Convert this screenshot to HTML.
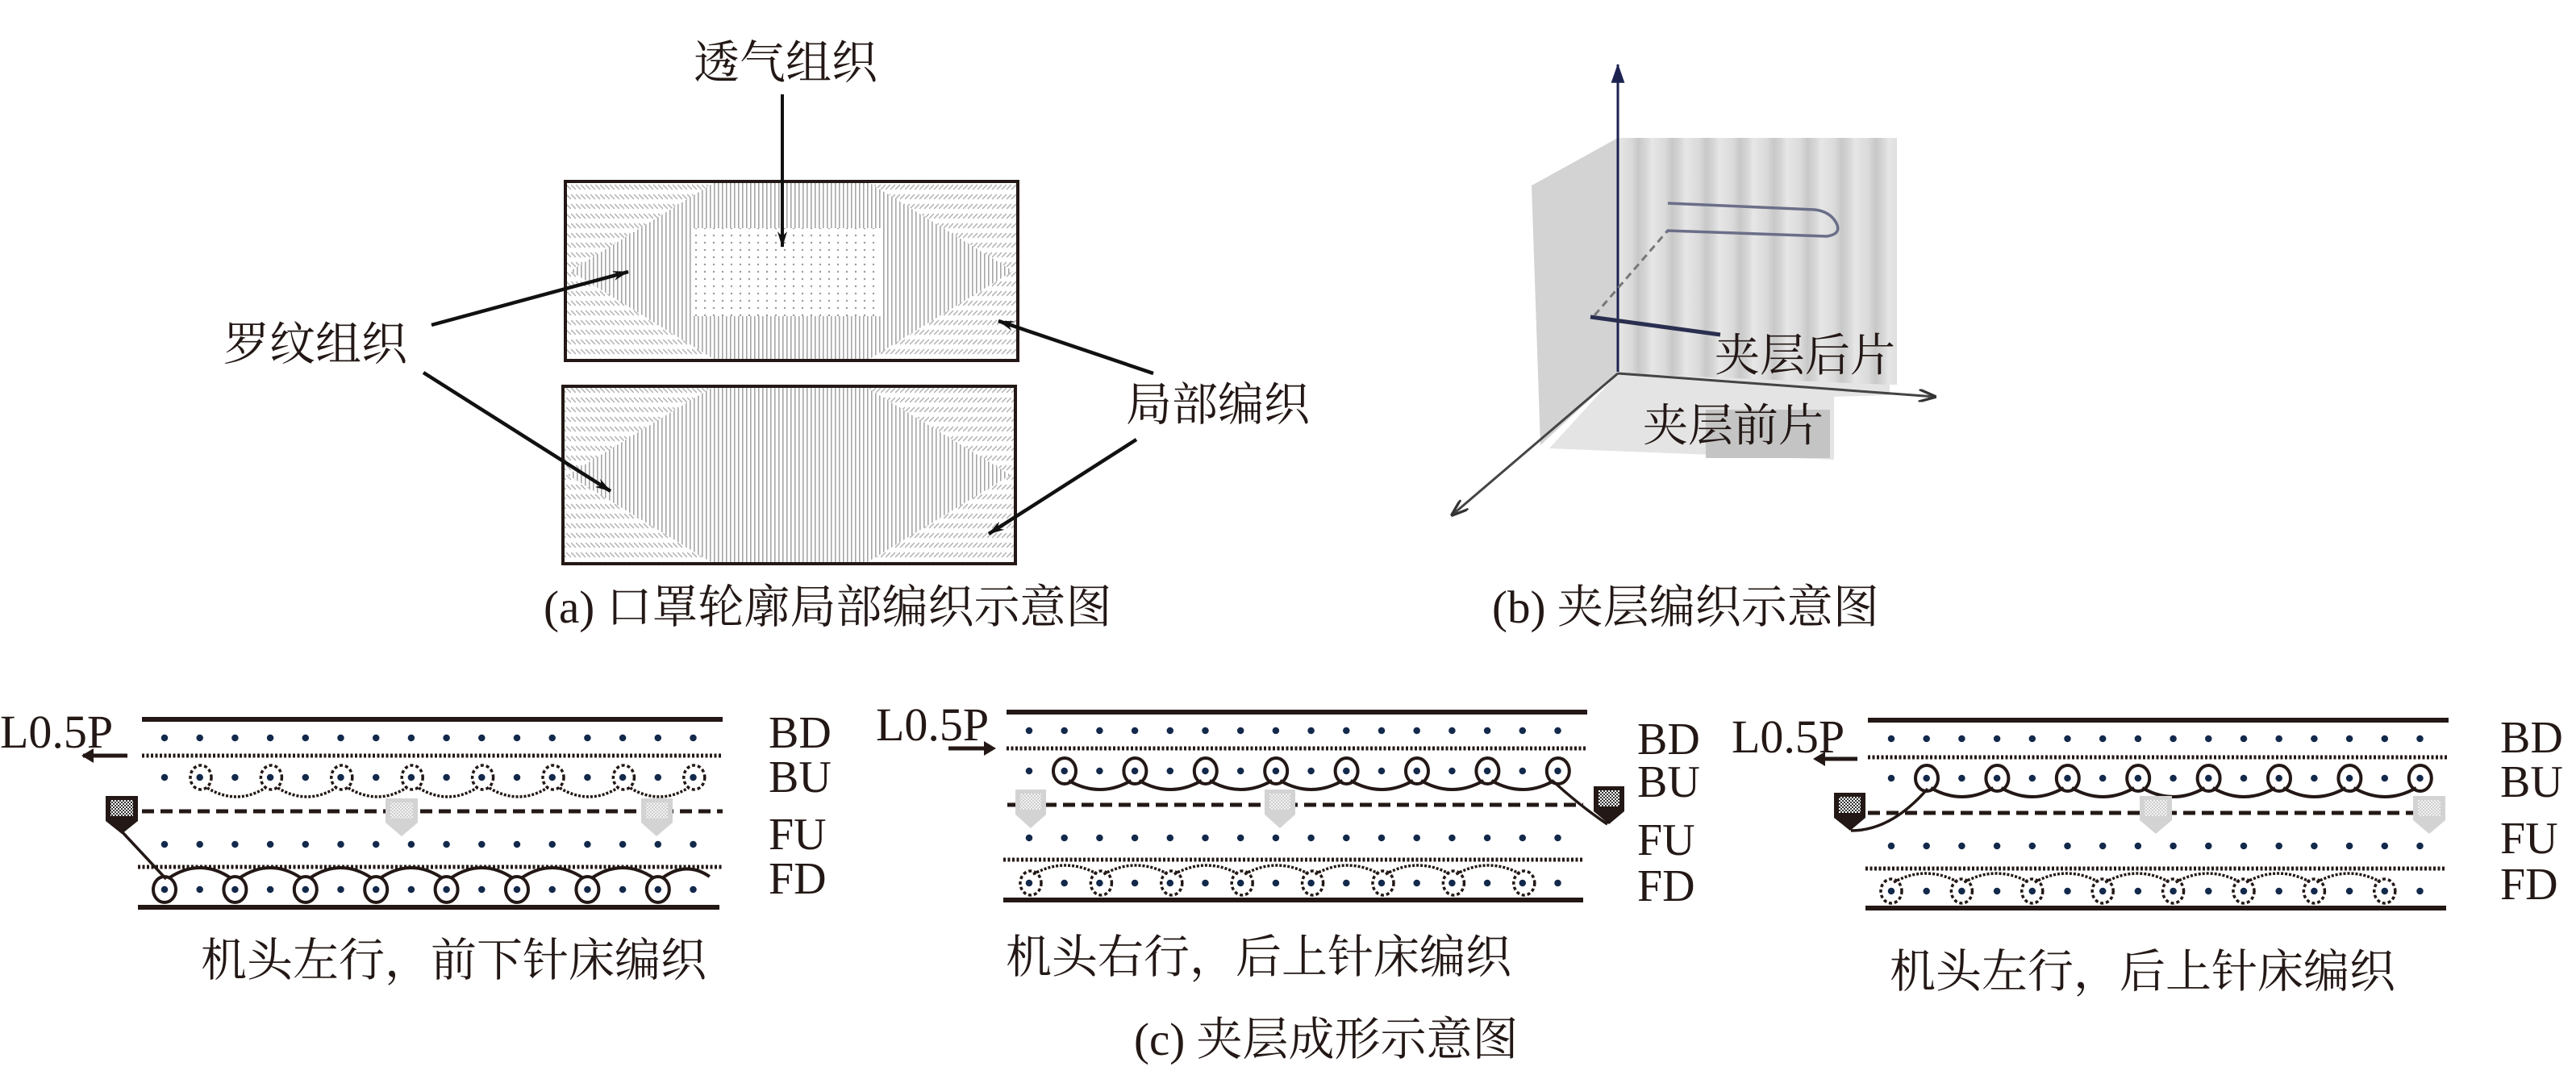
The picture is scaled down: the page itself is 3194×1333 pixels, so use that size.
<!DOCTYPE html>
<html><head><meta charset="utf-8"><style>
html,body{margin:0;padding:0;background:#fff;}
svg{display:block;}
text{font-family:"Liberation Serif","Noto Serif CJK SC",serif;fill:#231815;}
</style></head><body>
<svg width="3194" height="1333" viewBox="0 0 3194 1333" xmlns="http://www.w3.org/2000/svg">
<defs>
 <pattern id="vs" width="5" height="10" patternUnits="userSpaceOnUse"><rect width="5" height="10" fill="#fff"/><rect x="0" width="1.6" height="10" fill="#a6a6a6"/></pattern>
 <pattern id="hl" width="6" height="12" patternUnits="userSpaceOnUse"><rect width="6" height="12" fill="#fff"/><path d="M0,1 L6,7" stroke="#b0b0b0" stroke-width="1.4"/></pattern>
 <pattern id="hr" width="6" height="12" patternUnits="userSpaceOnUse"><rect width="6" height="12" fill="#fff"/><path d="M6,1 L0,7" stroke="#b0b0b0" stroke-width="1.4"/></pattern>
 <pattern id="dt" width="11" height="9" patternUnits="userSpaceOnUse"><rect width="11" height="9" fill="#fff"/><circle cx="5" cy="4" r="1.2" fill="#999"/></pattern>
 <linearGradient id="bsg" x1="0" x2="1" y1="0" y2="0">
  <stop offset="0" stop-color="#e6e6e6"/><stop offset="0.4" stop-color="#dadada"/><stop offset="0.6" stop-color="#c8c8c8"/><stop offset="0.8" stop-color="#d4d4d4"/><stop offset="1" stop-color="#e6e6e6"/>
 </linearGradient>
 <pattern id="bs" x="2006" width="42" height="10" patternUnits="userSpaceOnUse"><rect width="42" height="10" fill="url(#bsg)"/></pattern>
 <pattern id="ck" width="4" height="4" patternUnits="userSpaceOnUse"><rect width="4" height="4" fill="#fff"/><rect width="2" height="2" fill="#333"/><rect x="2" y="2" width="2" height="2" fill="#333"/></pattern>
 <pattern id="ckg" width="4" height="4" patternUnits="userSpaceOnUse"><rect width="4" height="4" fill="#f2f2f2"/><rect width="2" height="2" fill="#cfcfcf"/><rect x="2" y="2" width="2" height="2" fill="#cfcfcf"/></pattern>
 <marker id="ah" viewBox="0 0 20 12" refX="19" refY="6" markerWidth="20" markerHeight="12" markerUnits="userSpaceOnUse" orient="auto"><path d="M0,0 L20,6 L0,12 L6,6 Z" fill="#111"/></marker>
 <marker id="ah2" viewBox="0 0 20 14" refX="19" refY="7" markerWidth="22" markerHeight="16" markerUnits="userSpaceOnUse" orient="auto"><path d="M0,0 L20,7 L0,14" fill="none" stroke="#333" stroke-width="3"/></marker>
 <marker id="ah3" viewBox="0 0 20 14" refX="19" refY="7" markerWidth="24" markerHeight="18" markerUnits="userSpaceOnUse" orient="auto"><path d="M0,0 L20,7 L0,14 Z" fill="#1c2250"/></marker>
</defs>

<!-- ===== Panel (a) ===== -->
<g>
 <rect x="701" y="225" width="561" height="222" fill="url(#vs)"/>
 <polygon points="701,225 888,225 707,336 888,447 701,447" fill="url(#hl)"/>
 <polygon points="1262,225 1075,225 1256,336 1075,447 1262,447" fill="url(#hr)"/>
 <rect x="858" y="283" width="234" height="109" fill="url(#dt)"/>
 <rect x="701" y="225" width="561" height="222" fill="none" stroke="#231815" stroke-width="4"/>

 <rect x="698" y="479" width="561" height="220" fill="url(#vs)"/>
 <polygon points="698,479 885,479 704,589 885,699 698,699" fill="url(#hl)"/>
 <polygon points="1259,479 1072,479 1253,589 1072,699 1259,699" fill="url(#hr)"/>
 <rect x="698" y="479" width="561" height="220" fill="none" stroke="#231815" stroke-width="4"/>

 <line x1="970" y1="117" x2="970" y2="306" stroke="#111" stroke-width="4" marker-end="url(#ah)"/>
 <line x1="535" y1="403" x2="779" y2="337" stroke="#111" stroke-width="4.5" marker-end="url(#ah)"/>
 <line x1="525" y1="462" x2="757" y2="609" stroke="#111" stroke-width="4.5" marker-end="url(#ah)"/>
 <line x1="1430" y1="463" x2="1238" y2="398" stroke="#111" stroke-width="4.5" marker-end="url(#ah)"/>
 <line x1="1409" y1="545" x2="1226" y2="662" stroke="#111" stroke-width="4.5" marker-end="url(#ah)"/>

 <text x="860" y="97" font-size="57">透气组织</text>
 <text x="277" y="446" font-size="57">罗纹组织</text>
 <text x="1396" y="521" font-size="57">局部编织</text>
 <text x="674" y="772" font-size="57">(a) 口罩轮廓局部编织示意图</text>
</g>

<!-- ===== Panel (b) ===== -->
<g>
 <polygon points="1899,230 2006,171 2006,463 1910,552" fill="#d3d3d3"/>
 <rect x="2006" y="171" width="346" height="306" fill="url(#bs)"/>
 <polygon points="2006,463 2343,477 2343,490 2274,492 2274,570 1921,556" fill="#e4e4e4"/>
 <rect x="2115" y="508" width="154" height="60" fill="#c4c4c4"/>
 <line x1="2006" y1="461" x2="2006" y2="80" stroke="#1c2250" stroke-width="3" marker-end="url(#ah3)"/>
 <line x1="2006" y1="463" x2="2400" y2="492" stroke="#444" stroke-width="3" marker-end="url(#ah2)"/>
 <line x1="2006" y1="463" x2="1800" y2="639" stroke="#444" stroke-width="3" marker-end="url(#ah2)"/>
 <path d="M1972,393 L2133,415" stroke="#2a2f50" stroke-width="5" fill="none"/>
 <path d="M1977,391 L2066,288" stroke="#777" stroke-width="3" stroke-dasharray="9 6" fill="none"/>
 <path d="M2066,288 L2068,286 L2265,293 Q2285,290 2276,275 Q2268,262 2250,260 L2068,252" stroke="#6a6e88" stroke-width="3.5" fill="none"/>
 <text x="2126" y="460" font-size="56">夹层后片</text>
 <text x="2037" y="547" font-size="56">夹层前片</text>
 <text x="1850" y="772" font-size="57">(b) 夹层编织示意图</text>
</g>

<!-- ===== Panel (c)-1 ===== -->
<g fill="none" stroke="#231815">
 <line x1="176" y1="892" x2="896" y2="892" stroke-width="6"/>
 <line x1="176" y1="937" x2="896" y2="937" stroke-width="5" stroke-dasharray="3 2.5"/>
 <line x1="176" y1="1006" x2="896" y2="1006" stroke-width="5" stroke-dasharray="15 8"/>
 <line x1="171" y1="1075" x2="896" y2="1075" stroke-width="5" stroke-dasharray="3 2.5"/>
 <line x1="171" y1="1125" x2="892" y2="1125" stroke-width="6"/>
 <path d="M257,977 q36,22 72,0 m15.4,0 q36,22 72,0 m15.4,0 q36,22 72,0 m15.4,0 q36,22 72,0 m15.4,0 q36,22 72,0 m15.4,0 q36,22 72,0 m15.4,0 q36,22 72,0" stroke-width="3.5" stroke-dasharray="3 2"/>
 <path d="M209,1089 q38.7,-26 77.4,0 m10,0 q38.7,-26 77.4,0 m10,0 q38.7,-26 77.4,0 m10,0 q38.7,-26 77.4,0 m10,0 q38.7,-26 77.4,0 m10,0 q38.7,-26 77.4,0 m10,0 q38.7,-26 77.4,0 m10,0 q30,-22 59,-2" stroke-width="4"/>
 <line x1="150" y1="1030" x2="206" y2="1090" stroke-width="3.5"/>
 <g stroke-width="3.5" stroke-dasharray="4 3">
  <ellipse cx="249" cy="964" rx="13" ry="15"/><ellipse cx="336.4" cy="964" rx="13" ry="15"/><ellipse cx="423.8" cy="964" rx="13" ry="15"/><ellipse cx="511.2" cy="964" rx="13" ry="15"/><ellipse cx="598.6" cy="964" rx="13" ry="15"/><ellipse cx="686" cy="964" rx="13" ry="15"/><ellipse cx="773.4" cy="964" rx="13" ry="15"/><ellipse cx="860.8" cy="964" rx="13" ry="15"/>
 </g>
 <g stroke-width="4">
  <ellipse cx="204" cy="1103" rx="14" ry="16"/><ellipse cx="291.4" cy="1103" rx="14" ry="16"/><ellipse cx="378.8" cy="1103" rx="14" ry="16"/><ellipse cx="466.2" cy="1103" rx="14" ry="16"/><ellipse cx="553.6" cy="1103" rx="14" ry="16"/><ellipse cx="641" cy="1103" rx="14" ry="16"/><ellipse cx="728.4" cy="1103" rx="14" ry="16"/><ellipse cx="815.8" cy="1103" rx="14" ry="16"/>
 </g>
</g>
<g stroke="#13294b" stroke-width="8.5" stroke-linecap="round" stroke-dasharray="0 43.7" fill="none">
 <line x1="204" y1="915" x2="870" y2="915"/>
 <line x1="204" y1="964" x2="870" y2="964"/>
 <line x1="204" y1="1047" x2="870" y2="1047"/>
 <line x1="204" y1="1103" x2="870" y2="1103"/>
</g>
<path d="M131,987 H171 V1018 L151,1034 L131,1018 Z" fill="#231815"/>
<rect x="137" y="992" width="28" height="20" fill="url(#ck)"/>
<path d="M478,990 H518 V1020 L498,1037 L478,1020 Z" fill="#d3d3d3"/>
<rect x="484" y="995" width="28" height="20" fill="url(#ckg)"/>
<path d="M795,990 H834 V1020 L814,1037 L795,1020 Z" fill="#d3d3d3"/>
<rect x="801" y="995" width="27" height="20" fill="url(#ckg)"/>
<line x1="158" y1="937" x2="103" y2="937" stroke="#231815" stroke-width="5"/>
<path d="M101,937 L116,928 L116,946 Z" fill="#231815"/>
<text x="0" y="927" font-size="58">L0.5P</text>
<text x="953" y="927" font-size="56">BD</text>
<text x="953" y="982" font-size="56">BU</text>
<text x="953" y="1053" font-size="56">FU</text>
<text x="953" y="1108" font-size="56">FD</text>
<text x="249" y="1210" font-size="57">机头左行，前下针床编织</text>

<!-- ===== Panel (c)-2 ===== -->
<g fill="none" stroke="#231815">
 <line x1="1248" y1="883" x2="1968" y2="883" stroke-width="6"/>
 <line x1="1248" y1="928" x2="1968" y2="928" stroke-width="5" stroke-dasharray="3 2.5"/>
 <line x1="1249" y1="998" x2="1963" y2="998" stroke-width="5" stroke-dasharray="15 8"/>
 <line x1="1244" y1="1066" x2="1962" y2="1066" stroke-width="5" stroke-dasharray="3 2.5"/>
 <line x1="1244" y1="1116" x2="1963" y2="1116" stroke-width="6"/>
 <path d="M1325,968 q38.7,22 77.4,0 m10,0 q38.7,22 77.4,0 m10,0 q38.7,22 77.4,0 m10,0 q38.7,22 77.4,0 m10,0 q38.7,22 77.4,0 m10,0 q38.7,22 77.4,0 m10,0 q38.7,22 77.4,0" stroke-width="4"/>
 <path d="M1281,1084 q40,-22 80,0 m7.4,0 q40,-22 80,0 m7.4,0 q40,-22 80,0 m7.4,0 q40,-22 80,0 m7.4,0 q40,-22 80,0 m7.4,0 q40,-22 80,0 m7.4,0 q40,-22 80,0" stroke-width="3.5" stroke-dasharray="3 2"/>
 <path d="M1926,969 Q1960,1000 1993,1022" stroke-width="3.5"/>
 <g stroke-width="4">
  <ellipse cx="1320" cy="956" rx="14" ry="16"/><ellipse cx="1407.4" cy="956" rx="14" ry="16"/><ellipse cx="1494.8" cy="956" rx="14" ry="16"/><ellipse cx="1582.2" cy="956" rx="14" ry="16"/><ellipse cx="1669.6" cy="956" rx="14" ry="16"/><ellipse cx="1757" cy="956" rx="14" ry="16"/><ellipse cx="1844.4" cy="956" rx="14" ry="16"/><ellipse cx="1931.8" cy="956" rx="14" ry="16"/>
 </g>
 <g stroke-width="3.5" stroke-dasharray="4 3">
  <ellipse cx="1278" cy="1095" rx="13" ry="15"/><ellipse cx="1365.4" cy="1095" rx="13" ry="15"/><ellipse cx="1452.8" cy="1095" rx="13" ry="15"/><ellipse cx="1540.2" cy="1095" rx="13" ry="15"/><ellipse cx="1627.6" cy="1095" rx="13" ry="15"/><ellipse cx="1715" cy="1095" rx="13" ry="15"/><ellipse cx="1802.4" cy="1095" rx="13" ry="15"/><ellipse cx="1889.8" cy="1095" rx="13" ry="15"/>
 </g>
</g>
<g stroke="#13294b" stroke-width="8.5" stroke-linecap="round" stroke-dasharray="0 43.7" fill="none">
 <line x1="1276" y1="906" x2="1940" y2="906"/>
 <line x1="1276" y1="956" x2="1940" y2="956"/>
 <line x1="1276" y1="1039" x2="1940" y2="1039"/>
 <line x1="1276" y1="1095" x2="1940" y2="1095"/>
</g>
<path d="M1976,975 H2014 V1006 L1995,1022 L1976,1006 Z" fill="#231815"/>
<rect x="1982" y="980" width="26" height="20" fill="url(#ck)"/>
<path d="M1259,979 H1297 V1010 L1278,1027 L1259,1010 Z" fill="#d3d3d3"/>
<rect x="1265" y="984" width="26" height="20" fill="url(#ckg)"/>
<path d="M1568,979 H1606 V1010 L1587,1027 L1568,1010 Z" fill="#d3d3d3"/>
<rect x="1574" y="984" width="26" height="20" fill="url(#ckg)"/>
<line x1="1176" y1="928" x2="1222" y2="928" stroke="#231815" stroke-width="5"/>
<path d="M1235,928 L1220,919 L1220,937 Z" fill="#231815"/>
<text x="1086" y="918" font-size="58">L0.5P</text>
<text x="2030" y="935" font-size="56">BD</text>
<text x="2030" y="988" font-size="56">BU</text>
<text x="2030" y="1060" font-size="56">FU</text>
<text x="2030" y="1117" font-size="56">FD</text>
<text x="1247" y="1206" font-size="57">机头右行，后上针床编织</text>

<!-- ===== Panel (c)-3 ===== -->
<g fill="none" stroke="#231815">
 <line x1="2316" y1="893" x2="3036" y2="893" stroke-width="6"/>
 <line x1="2316" y1="939" x2="3036" y2="939" stroke-width="5" stroke-dasharray="3 2.5"/>
 <line x1="2316" y1="1008" x2="3031" y2="1008" stroke-width="5" stroke-dasharray="15 8"/>
 <line x1="2313" y1="1077" x2="3031" y2="1077" stroke-width="5" stroke-dasharray="3 2.5"/>
 <line x1="2313" y1="1126" x2="3033" y2="1126" stroke-width="6"/>
 <path d="M2394,977 q38.7,22 77.4,0 m10,0 q38.7,22 77.4,0 m10,0 q38.7,22 77.4,0 m10,0 q38.7,22 77.4,0 m10,0 q38.7,22 77.4,0 m10,0 q38.7,22 77.4,0 m10,0 q38.7,22 77.4,0" stroke-width="4"/>
 <path d="M2348,1094 q40,-22 80,0 m7.4,0 q40,-22 80,0 m7.4,0 q40,-22 80,0 m7.4,0 q40,-22 80,0 m7.4,0 q40,-22 80,0 m7.4,0 q40,-22 80,0 m7.4,0 q40,-22 80,0" stroke-width="3.5" stroke-dasharray="3 2"/>
 <path d="M2390,978 Q2345,1030 2295,1030" stroke-width="3.5"/>
 <g stroke-width="4">
  <ellipse cx="2389" cy="965" rx="14" ry="16"/><ellipse cx="2476.4" cy="965" rx="14" ry="16"/><ellipse cx="2563.8" cy="965" rx="14" ry="16"/><ellipse cx="2651.2" cy="965" rx="14" ry="16"/><ellipse cx="2738.6" cy="965" rx="14" ry="16"/><ellipse cx="2826" cy="965" rx="14" ry="16"/><ellipse cx="2913.4" cy="965" rx="14" ry="16"/><ellipse cx="3000.8" cy="965" rx="14" ry="16"/>
 </g>
 <g stroke-width="3.5" stroke-dasharray="4 3">
  <ellipse cx="2345" cy="1105" rx="13" ry="15"/><ellipse cx="2432.4" cy="1105" rx="13" ry="15"/><ellipse cx="2519.8" cy="1105" rx="13" ry="15"/><ellipse cx="2607.2" cy="1105" rx="13" ry="15"/><ellipse cx="2694.6" cy="1105" rx="13" ry="15"/><ellipse cx="2782" cy="1105" rx="13" ry="15"/><ellipse cx="2869.4" cy="1105" rx="13" ry="15"/><ellipse cx="2956.8" cy="1105" rx="13" ry="15"/>
 </g>
</g>
<g stroke="#13294b" stroke-width="8.5" stroke-linecap="round" stroke-dasharray="0 43.7" fill="none">
 <line x1="2345" y1="916" x2="3010" y2="916"/>
 <line x1="2345" y1="965" x2="3010" y2="965"/>
 <line x1="2345" y1="1049" x2="3010" y2="1049"/>
 <line x1="2345" y1="1105" x2="3010" y2="1105"/>
</g>
<path d="M2274,983 H2313 V1014 L2294,1030 L2274,1014 Z" fill="#231815"/>
<rect x="2280" y="988" width="27" height="20" fill="url(#ck)"/>
<path d="M2653,987 H2693 V1017 L2673,1034 L2653,1017 Z" fill="#d3d3d3"/>
<rect x="2659" y="992" width="28" height="20" fill="url(#ckg)"/>
<path d="M2992,987 H3032 V1017 L3012,1034 L2992,1017 Z" fill="#d3d3d3"/>
<rect x="2998" y="992" width="28" height="20" fill="url(#ckg)"/>
<line x1="2303" y1="941" x2="2262" y2="941" stroke="#231815" stroke-width="5"/>
<path d="M2248,941 L2263,932 L2263,950 Z" fill="#231815"/>
<text x="2147" y="933" font-size="58">L0.5P</text>
<text x="3100" y="933" font-size="56">BD</text>
<text x="3100" y="988" font-size="56">BU</text>
<text x="3100" y="1058" font-size="56">FU</text>
<text x="3100" y="1115" font-size="56">FD</text>
<text x="2343" y="1224" font-size="57">机头左行，后上针床编织</text>

<text x="1406" y="1308" font-size="57">(c) 夹层成形示意图</text>
</svg>
</body></html>
